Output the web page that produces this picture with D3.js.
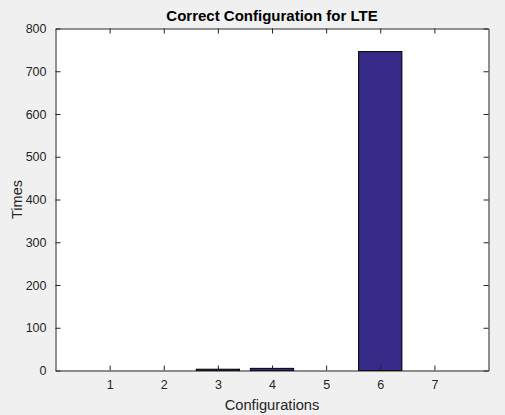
<!DOCTYPE html>
<html><head><meta charset="utf-8">
<script src="https://cdn.jsdelivr.net/npm/d3@7"></script>
<style>html,body{margin:0;padding:0;background:#f0f0f0;}svg{display:block;}</style>
</head><body>
<script>
const categories = [1, 2, 3, 4, 5, 6, 7];
const values = [0, 0, 3, 5, 0, 746, 0];
const yTicks = [0, 100, 200, 300, 400, 500, 600, 700, 800];
const title = "Correct Configuration for LTE";
const xLabel = "Configurations";
const yLabel = "Times";

const W = 505, H = 415;
const m = {left: 55.5, right: 505 - 488.5, top: 28.5, bottom: 415 - 370.5};
const svg = d3.select("body").append("svg").attr("width", W).attr("height", H);
svg.append("rect").attr("width", W).attr("height", H).attr("fill", "#f0f0f0");

const x = d3.scaleLinear().domain([0, 8]).range([m.left, W - m.right]);
const y = d3.scaleLinear().domain([0, 800]).range([H - m.bottom, m.top]);
const ink = "#262626";
const font = "'Liberation Sans', Arial, Helvetica, sans-serif";

svg.append("rect").attr("x", x(0)).attr("y", y(800))
  .attr("width", x(8) - x(0)).attr("height", y(0) - y(800)).attr("fill", "#ffffff");

// bars
svg.selectAll("rect.bar").data(categories).enter().append("rect").attr("class", "bar")
  .attr("x", d => x(d - 0.4)).attr("width", x(0.8) - x(0))
  .attr("y", (d, i) => y(values[i])).attr("height", (d, i) => y(0) - y(values[i]))
  .attr("fill", "#352a87").attr("stroke", "#000").attr("stroke-width", 1);

const tickLen = 5;
const xAxisB = d3.axisBottom(x).tickValues(categories).tickSizeInner(-tickLen).tickSizeOuter(0).tickPadding(10);
const xAxisT = d3.axisTop(x).tickValues(categories).tickSizeInner(-tickLen).tickSizeOuter(0).tickFormat("");
const yAxisL = d3.axisLeft(y).tickValues(yTicks).tickSizeInner(-tickLen).tickSizeOuter(0).tickPadding(9);
const yAxisR = d3.axisRight(y).tickValues(yTicks).tickSizeInner(-tickLen).tickSizeOuter(0).tickFormat("");

function style(g) {
  g.selectAll("path.domain").attr("stroke", ink);
  g.selectAll(".tick line").attr("stroke", ink);
  g.selectAll(".tick text").attr("fill", ink).style("font-family", font).style("font-size", "12.5px");
}
svg.append("g").attr("transform", `translate(0,${y(0)})`).call(xAxisB).call(style);
svg.append("g").attr("transform", `translate(0,${y(800)})`).call(xAxisT).call(style);
svg.append("g").attr("transform", `translate(${x(0)},0)`).call(yAxisL).call(style);
svg.append("g").attr("transform", `translate(${x(8)},0)`).call(yAxisR).call(style);

svg.append("text").attr("x", (x(0) + x(8)) / 2).attr("y", 21).attr("text-anchor", "middle")
  .attr("fill", "#000").style("font-family", font).style("font-size", "15px").style("font-weight", "bold").text(title);
svg.append("text").attr("x", (x(0) + x(8)) / 2).attr("y", 410).attr("text-anchor", "middle")
  .attr("fill", ink).style("font-family", font).style("font-size", "14.7px").text(xLabel);
svg.append("text").attr("transform", `translate(21.5,${(y(0) + y(800)) / 2}) rotate(-90)`).attr("text-anchor", "middle")
  .attr("fill", ink).style("font-family", font).style("font-size", "14.5px").text(yLabel);
</script>
</body></html>
